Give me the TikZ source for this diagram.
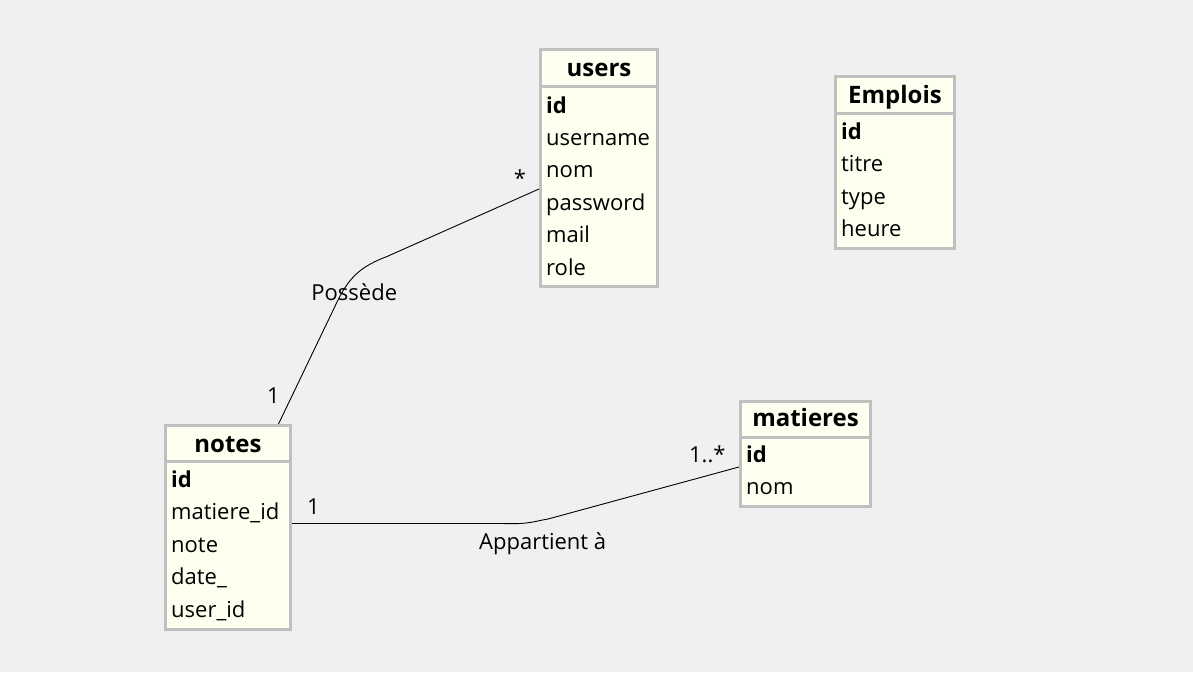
\documentclass[tikz,border=0pt]{standalone}
\usepackage{fontspec}
\setmainfont{Open Sans}
\usepackage{tikz}

\definecolor{bgcol}{HTML}{F0F0F0}
\definecolor{tblgray}{HTML}{C0C0C0}
\definecolor{tblfill}{HTML}{FFFFF0}

\tikzset{
  tblframe/.style={draw=tblgray, line width=3pt, fill=tblfill, inner sep=0pt},
  tblline/.style={draw=tblgray, line width=3pt},
  tbltitle/.style={font=\fontsize{24}{28}\selectfont\bfseries, anchor=base, inner sep=0pt},
  field/.style={font=\fontsize{22}{26}\selectfont, anchor=base west, inner sep=0pt},
  pkfield/.style={font=\fontsize{22}{26}\selectfont\bfseries, anchor=base west, inner sep=0pt},
  link/.style={draw=black, line width=0.9pt},
  card/.style={font=\fontsize{22}{26}\selectfont, anchor=base, inner sep=0pt}
}

\begin{document}
\begin{tikzpicture}[x=1pt, y=-1pt]
        \fill[bgcol] (0,0) rectangle (1193,672);
        \useasboundingbox (0,0) rectangle (1193,672);

        % users
        \node[tblframe, anchor=north west, minimum width=117, minimum height=237] (users) at (539,48) {};
        \draw[tblline] ([yshift=-38.7]users.north west) -- ([yshift=-38.7]users.north east);
        \node[tbltitle] (users-title) at (599,76.7) {users};
        \node[pkfield] (users-id) at (546,113) {id};
        \foreach \f [count=\i] in {username,nom,password,mail,role}
            \node[field] (users-\i) at (546,113+32.4*\i) {\f};

        % Emplois
        \node[tblframe, anchor=north west, minimum width=119, minimum height=172] (emplois) at (834,75) {};
        \draw[tblline] ([yshift=-38]emplois.north west) -- ([yshift=-38]emplois.north east);
        \node[tbltitle] (emplois-title) at (895,103) {Emplois};
        \node[pkfield] (emplois-id) at (841,139) {id};
        \foreach \f [count=\i] in {titre,type,heure}
            \node[field] (emplois-\i) at (841,139+32.5*\i) {\f};

        % notes
        \node[tblframe, anchor=north west, minimum width=125, minimum height=204] (notes) at (164,424) {};
        \draw[tblline] ([yshift=-37]notes.north west) -- ([yshift=-37]notes.north east);
        \node[tbltitle] (notes-title) at (228,452.7) {notes};
        \node[pkfield] (notes-id) at (171,487.3) {id};
        \foreach \f [count=\i] in {matiere\_id,note,date\_,user\_id}
            \node[field] (notes-\i) at (171,487.3+32.5*\i) {\f};

        % matieres
        \node[tblframe, anchor=north west, minimum width=130, minimum height=105] (matieres) at (739,400) {};
        \draw[tblline] ([yshift=-37.3]matieres.north west) -- ([yshift=-37.3]matieres.north east);
        \node[tbltitle] (matieres-title) at (805.5,426.7) {matieres};
        \node[pkfield] (matieres-id) at (746,462.7) {id};
        \node[field] (matieres-1) at (746,494.5) {nom};

        % Possède
        \draw[link] ([xshift=114.5]notes.north west) -- (338,300)
            .. controls (350,276) and (362,266) .. (387,256.5) -- ([yshift=-21]users.west);
        \node[card] (possede) at (354.3,300) {Possède};
        \node[card] (possede-1) at (273.3,403) {1};
        \node[card] (possede-n) at (520,186) {*};

        % Appartient à
        \draw[link] ([yshift=4]notes.east) -- (503,523.5)
            .. controls (530,524.5) and (535,521) .. (548,519) -- ([yshift=-13]matieres.west);
        \node[card] (appartient) at (542.7,549.3) {Appartient à};
        \node[card] (appartient-1) at (313.3,514) {1};
        \node[card] (appartient-n) at (707.3,462) {1..*};
    \end{tikzpicture}
\end{document}
